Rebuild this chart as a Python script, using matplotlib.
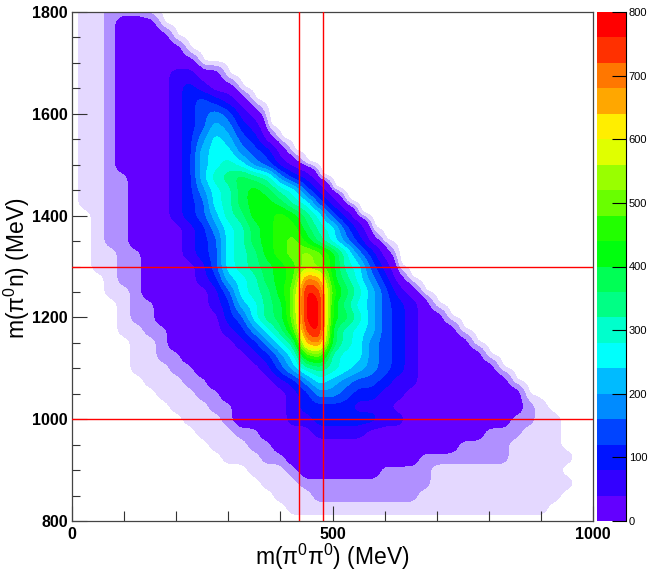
import numpy as np
import matplotlib
matplotlib.use("Agg")
import matplotlib.pyplot as plt
from matplotlib.colors import ListedColormap, BoundaryNorm
from matplotlib.cm import ScalarMappable
from matplotlib.ticker import MultipleLocator

# ---------------- data ----------------
# node positions of the 2-D histogram (MeV)
m_pipi = list(range(0, 1001, 25))          # x: m(pi0 pi0), 41 nodes
m_pin = list(range(1800, 799, -25))        # y: m(pi0 n), 41 rows, top row first

# one character per node = estimated counts per bin
#  '.' empty   'a' sparse speckle   'b' denser speckle
#  '0'..'J'  colour band k of the z scale (counts ~ 40*k + 20)
count_rows = [
    ".aabbba",                                   # 1800
    ".aab000",                                   # 1775
    ".aab0000",                                  # 1750
    ".aab00000",                                 # 1725
    ".aab000000",                                # 1700
    ".aab00001100",                              # 1675
    ".aab000012100",                             # 1650
    ".aab0000123210",                            # 1625
    ".aab00001234310",                           # 1600
    ".aab00001235421",                           # 1575
    ".aab000012465320",                          # 1550
    ".aab0000125664320",                         # 1525
    ".aab00001256764310",                        # 1500
    ".aabb00012578987421",                       # 1475
    ".aabb000124679A97631",                      # 1450
    ".aabb000123679AA97631",                     # 1425
    "..abb000123578AABA8631",                    # 1400
    "..abb0000124679ABB97631",                   # 1375
    "..abb0000123679ABCA86420",                  # 1350
    "..aabb000123678ABCDCA7420",                 # 1325
    "..aabb0000136789ABDCA7631",                 # 1300
    "...abb0000125679ABHGA86420",                # 1275
    "...aab0000013678ACJIB975310",               # 1250
    "....abb0000125689CJJA8653210",              # 1225
    "....abb0000023689CJJA97532100",             # 1200
    "....aabb000012468BIJ9765321000",            # 1175
    ".....aab0000012468GH97643210000",           # 1150
    ".....aabb000001246BC766432100000",          # 1125
    ".....aaabb00000135787654321000000",         # 1100
    "......aaabb00000124654332110000000",        # 1075
    ".......aaabb00000124432211000000000",       # 1050
    "........aaabb0000122221110000000000ba",     # 1025
    ".........aaab000011222221100000000bbaa",    # 1000
    "..........aaabb00001111000000000bbbaaa",    # 975
    "...........aaabb00000000000000bbbbaaaa",    # 950
    "............aaabb0000000000bbbbbbbaaaaa",   # 925
    "..............aaab000000bbbbaaaaaaaaaa",    # 900
    "...............aaabbbbbbbbbbaaaaaaaaaaa",   # 875
    "................aaabbbbbbbbaaaaaaaaaaa",    # 850
    ".................aaaaaaaaaaaaaaaaaaaa",     # 825
    "",                                          # 800
]
speckle_counts = {".": 0, "a": 2, "b": 8}
band_chars = "0123456789ABCDEFGHIJ"

cut_x = [435, 482]          # vertical red cut lines (MeV)
cut_y = [1000, 1300]        # horizontal red cut lines (MeV)
z_levels = list(range(0, 801, 40))
z_ticks = list(range(0, 801, 100))
x_ticks = [0, 500, 1000]
y_ticks = [800, 1000, 1200, 1400, 1600, 1800]

# ---------------- style ----------------
plt.rcParams["font.family"] = ["Liberation Sans", "DejaVu Sans"]
plt.rcParams["mathtext.fontset"] = "custom"
plt.rcParams["mathtext.rm"] = "Liberation Sans"
plt.rcParams["mathtext.it"] = "Liberation Sans"
plt.rcParams["mathtext.bf"] = "Liberation Sans:bold"

# ROOT "pretty" palette, 20 contour colours (violet -> red)
palette = ["#6300FF", "#3300FF", "#0014FF", "#0044FF", "#008BFF",
           "#00BBFF", "#00FFFC", "#00FFCC", "#00FF85", "#00FF55",
           "#00FF0E", "#22FF00", "#69FF00", "#99FF00", "#E0FF00",
           "#FFEE00", "#FFA700", "#FF7700", "#FF3000", "#FF0000"]
speckle_colors = ["#E4D8FF", "#B090FF"]


def decode(ch):
    if ch in speckle_counts:
        return speckle_counts[ch]
    return 40 * band_chars.index(ch) + 20


n_x = len(m_pipi)
Z = np.array([[decode(c) for c in row.ljust(n_x, ".")[:n_x]] for row in count_rows],
             dtype=float)
x = np.array(m_pipi, dtype=float)
y = np.array(m_pin, dtype=float)[::-1]
Z = Z[::-1]

# rendering: bilinear resampling of the node grid + light smoothing of corners
fx = np.linspace(0, 1000, 401)
fy = np.linspace(800, 1800, 401)
Zx = np.array([np.interp(fx, x, row) for row in Z])
Zf = np.array([np.interp(fy, y, col) for col in Zx.T]).T
sig = 2.6
kx = np.arange(-9, 10)
kern = np.exp(-0.5 * (kx / sig) ** 2)
kern /= kern.sum()
pad = len(kx) // 2
Zp = np.pad(Zf, pad, mode="edge")
Zp = np.apply_along_axis(lambda v: np.convolve(v, kern, mode="same"), 0, Zp)
Zp = np.apply_along_axis(lambda v: np.convolve(v, kern, mode="same"), 1, Zp)
Zf = Zp[pad:-pad, pad:-pad]

fig = plt.figure(figsize=(6.48, 5.74), dpi=100)
ax = fig.add_axes([72 / 648, 1 - 521 / 574, 521 / 648, 509 / 574])

fill_levels = [1, 5, 12] + z_levels[1:]
ax.contourf(fx, fy, Zf, levels=fill_levels, colors=speckle_colors + palette)

for xv in cut_x:
    ax.axvline(xv, color="#FF0000", lw=1.0, zorder=5)
for yv in cut_y:
    ax.axhline(yv, color="#FF0000", lw=1.0, zorder=5)

ax.set_xlim(0, 1000)
ax.set_ylim(800, 1800)
ax.set_xticks(x_ticks)
ax.set_yticks(y_ticks)
ax.xaxis.set_minor_locator(MultipleLocator(100))
ax.yaxis.set_minor_locator(MultipleLocator(50))
ax.tick_params(axis="both", which="both", direction="in", color="#333333", width=0.8)
ax.tick_params(axis="y", which="major", length=11, pad=3)
ax.tick_params(axis="y", which="minor", length=6)
ax.tick_params(axis="x", which="major", length=11, pad=4)
ax.tick_params(axis="x", which="minor", length=7)
for lab in ax.get_xticklabels() + ax.get_yticklabels():
    lab.set_fontweight("bold")
    lab.set_fontsize(11.5)
for sp in ax.spines.values():
    sp.set_color("#444444")
    sp.set_linewidth(0.9)

fig.text(332 / 648, 1 - 557 / 574, "m(π$^{0}$π$^{0}$) (MeV)", fontsize=16.5,
         ha="center", va="center")
fig.text(17 / 648, 1 - 268 / 574, "m(π$^{0}$n) (MeV)", fontsize=16.5,
         ha="center", va="center", rotation=90)

# colour scale (palette axis)
cax = fig.add_axes([597 / 648, 1 - 521 / 574, 29 / 648, 509 / 574])
cmap = ListedColormap(palette)
norm = BoundaryNorm(z_levels, cmap.N)
cb = fig.colorbar(ScalarMappable(norm=norm, cmap=cmap), cax=cax, ticks=z_ticks)
cb.outline.set_visible(False)
cax.tick_params(axis="y", which="major", direction="in", length=10, width=0.8,
                pad=2, labelsize=8, color="black")
cax.minorticks_off()
cax.plot([1, 1], [0, 1], transform=cax.transAxes, color="black", lw=0.8,
         clip_on=False)

fig.savefig("out.png", dpi=100)
